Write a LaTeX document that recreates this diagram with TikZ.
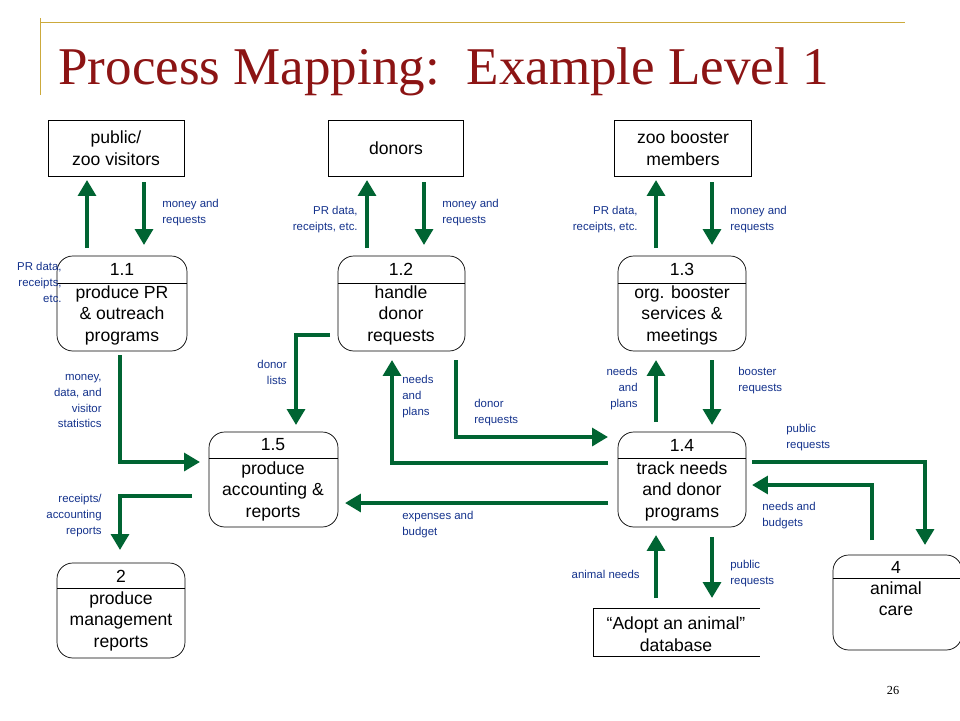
\documentclass[tikz,border=0pt]{standalone}
\usepackage{fontspec}
\setmainfont{Liberation Sans}
\newfontfamily\serifx{Liberation Serif}
\usetikzlibrary{arrows.meta}
\definecolor{gold}{RGB}{204,170,60}
\definecolor{ttl}{RGB}{140,20,20}
\definecolor{grn}{RGB}{0,100,50}
\definecolor{lbl}{RGB}{20,50,140}
\newcommand{\proch}[6]{%
 \draw[thin,rounded corners=9pt] (#2,#3) rectangle (#4,#5);
 \draw[thin] (#2,#6) -- (#4,#6);
 \coordinate (#1) at ({(#2+#4)/2},{(#3+#5)/2});}
\begin{document}
\begin{tikzpicture}[x=0.02cm,y=-0.02cm,
 pt/.style={font=\fontsize{10}{12.3}\selectfont,align=center,inner sep=0},
 flow/.style={draw=grn,line width=2.8pt,-{Triangle[length=9pt,width=10pt]}},
 lab/.style={text=lbl,font=\fontsize{6.5}{9}\selectfont,inner sep=0pt}]
\useasboundingbox (0,0) rectangle (960,720);
\draw[gold] (40,18) -- (40,95);
\draw[gold] (40,22) -- (905,22);
\node[anchor=west,text=ttl,font=\serifx\fontsize{30.2}{34}\selectfont,inner sep=0] (title) at (58,72) {Process Mapping:\ \ Example Level 1};
\node[font=\serifx\fontsize{7}{8}\selectfont,inner sep=0] (pg) at (893,690) {26};
% external
\node[draw,thin,minimum width=136*0.02cm,minimum height=56*0.02cm,align=center,font=\fontsize{10}{12.3}\selectfont] (pub) at (116,148) {public/\\zoo visitors};
\node[draw,thin,minimum width=135*0.02cm,minimum height=56*0.02cm,align=center,font=\fontsize{10}{12.3}\selectfont] (don) at (396,148) {donors};
\node[draw,thin,minimum width=137*0.02cm,minimum height=56*0.02cm,align=center,font=\fontsize{10}{12.3}\selectfont] (zbm) at (683,148) {zoo booster\\members};
% processes
\proch{p11}{57}{256}{187}{351}{283}
\proch{p12}{338}{256}{465}{351}{283}
\proch{p13}{618}{256}{746}{351}{283}
\proch{p15}{209}{432}{338}{527}{458}
\proch{p14}{618}{432}{746}{527}{458}
\proch{p2}{57}{563}{185}{658}{588}
\proch{p4}{833}{555}{962}{650}{578}
\node[pt] (t11a) at (122,269) {1.1};
\node[pt,anchor=north] (t11) at (122,285) {produce PR\\\& outreach\\programs};
\node[pt] (t12a) at (401,269) {1.2};
\node[pt,anchor=north] (t12) at (401,285) {handle\\donor\\requests};
\node[pt] (t13a) at (682,269) {1.3};
\node[pt,anchor=north] (t13) at (682,285) {org. booster\\services \&\\meetings};
\node[pt] (t15a) at (273,445) {1.5};
\node[pt,anchor=north] (t15) at (273,461) {produce\\accounting \&\\reports};
\node[pt] (t14a) at (682,445) {1.4};
\node[pt,anchor=north] (t14) at (682,461) {track needs\\and donor\\programs};
\node[pt] (t2a) at (121,576) {2};
\node[pt,anchor=north] (t2) at (121,591) {produce\\management\\reports};
\node[pt] (t4a) at (896,567) {4};
\node[pt,anchor=north] (t4) at (896,581) {animal\\care};
\draw[thin] (760,608) -- (593,608) -- (593,656) -- (760,656);
\node[pt] (db) at (676,634) {``Adopt an animal''\\database};
% flows
\draw[flow] (87,248) -- (87,180);
\draw[flow] (144,182) -- (144,245);
\draw[flow] (367,248) -- (367,180);
\draw[flow] (424,182) -- (424,245);
\draw[flow] (656,248) -- (656,180);
\draw[flow] (712,182) -- (712,245);
\draw[flow] (120,355) -- (120,462) -- (200,462);
\draw[flow] (330,335) -- (296,335) -- (296,425);
\draw[flow] (456,360) -- (456,437) -- (608,437);
\draw[flow] (608,463) -- (392,463) -- (392,360);
\draw[flow] (608,503) -- (345,503);
\draw[flow] (192,496) -- (120,496) -- (120,550);
\draw[flow] (656,422) -- (656,360);
\draw[flow] (712,360) -- (712,425);
\draw[flow] (752,462) -- (925,462) -- (925,545);
\draw[flow] (872,540) -- (872,485) -- (752,485);
\draw[flow] (656,598) -- (656,535);
\draw[flow] (712,537) -- (712,598);
% labels
\node[lab,anchor=north west,align=left] (l1) at (162,199) {money and\\requests};
\node[lab,anchor=north east,align=right] (l2) at (62,262) {PR data,\\receipts,\\etc.};
\node[lab,anchor=north east,align=right] (l3) at (358,206) {PR data,\\receipts, etc.};
\node[lab,anchor=north west,align=left] (l4) at (442,199) {money and\\requests};
\node[lab,anchor=north east,align=right] (l5) at (638,206) {PR data,\\receipts, etc.};
\node[lab,anchor=north west,align=left] (l6) at (730,206) {money and\\requests};
\node[lab,anchor=north east,align=right] (l7) at (102,374) {money,\\data, and\\visitor\\statistics};
\node[lab,anchor=north east,align=right] (l8) at (287,360) {donor\\lists};
\node[lab,anchor=north west,align=left] (l9) at (402,375) {needs\\and\\plans};
\node[lab,anchor=north west,align=left] (l10) at (474,399) {donor\\requests};
\node[lab,anchor=north east,align=right] (l11) at (638,367) {needs\\and\\plans};
\node[lab,anchor=north west,align=left] (l12) at (738,367) {booster\\requests};
\node[lab,anchor=north west,align=left] (l13) at (786,424) {public\\requests};
\node[lab,anchor=north east,align=right] (l14) at (102,494) {receipts/\\accounting\\reports};
\node[lab,anchor=north west,align=left] (l15) at (402,511) {expenses and\\budget};
\node[lab,anchor=north west,align=left] (l16) at (762,502) {needs and\\budgets};
\node[lab,anchor=east] (l17) at (640,574) {animal needs};
\node[lab,anchor=north west,align=left] (l18) at (730,560) {public\\requests};
\end{tikzpicture}
\end{document}
